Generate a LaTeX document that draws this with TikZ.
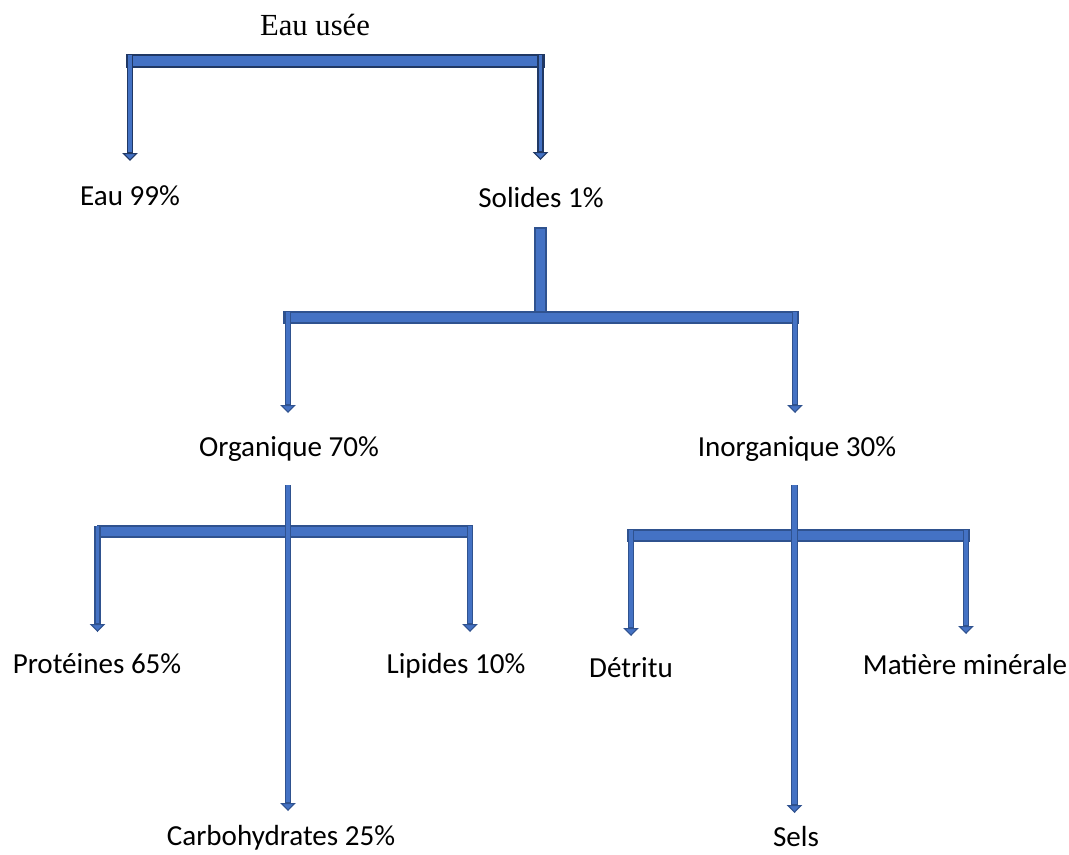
\documentclass[tikz,border=0pt]{standalone}
\usepackage{fontspec}
\setmainfont{Carlito}
\newfontfamily\serifttl{Liberation Serif}
\usetikzlibrary{arrows.meta}
\definecolor{barfill}{HTML}{4472C4}
\definecolor{barline}{HTML}{2F528F}
\definecolor{topline}{HTML}{203864}
\tikzset{
  lbl/.style={anchor=base, inner sep=0pt, font=\fontsize{21.8}{26}\selectfont},
  bar/.style={fill=barfill, draw=barline, line width=1.4pt},
  arr/.style={draw=barline, line width=4.6pt,
    -{Triangle[width=11.5pt,length=6pt,line width=0.8pt,fill=barfill,color=barline]},
    postaction={draw=barfill, line width=2.6pt, shorten >=6.6pt, -}},
  toparr/.style={draw=topline, line width=4.6pt,
    -{Triangle[width=11.5pt,length=6pt,line width=0.8pt,fill=barfill,color=topline]},
    postaction={draw=barfill, line width=2.6pt, shorten >=6.6pt, -}},
  tallarr/.style={draw=barline, line width=5.2pt,
    -{Triangle[width=11.5pt,length=6pt,line width=0.8pt,fill=barfill,color=barline]},
    postaction={draw=barfill, line width=3.2pt, shorten >=6.6pt, -}},
}
\begin{document}
\begin{tikzpicture}[x=0.75pt,y=-0.75pt]
\useasboundingbox (0,0) rectangle (1069,854);
% labels
\node[anchor=base, inner sep=0pt, font=\serifttl\fontsize{23}{28}\selectfont] (root) at (315,35) {Eau usée};
\node[lbl] (eau) at (130,205) {Eau 99\%};
\node[lbl] (sol) at (541,207) {Solides 1\%};
\node[lbl] (org) at (289,456) {Organique 70\%};
\node[lbl] (inorg) at (797,456) {Inorganique 30\%};
\node[lbl] (prot) at (97,673) {Protéines 65\%};
\node[lbl] (lip) at (456,673) {Lipides 10\%};
\node[lbl] (carb) at (281,845) {Carbohydrates 25\%};
\node[lbl] (detr) at (631,677) {Détritu};
\node[lbl] (mat) at (965,674) {Matière minérale};
\node[lbl] (sels) at (796,846) {Sels};

% level 1
\coordinate (b1a) at (127,55);
\coordinate (b1b) at (544,67);
\coordinate (s1l) at (130,55);
\coordinate (t1l) at (130,161);
\coordinate (s1r) at (540.5,55);
\coordinate (t1r) at (540.5,160);
\draw[bar, draw=topline] (b1a) rectangle (b1b);
\draw[toparr] (s1l) -- (t1l);
\draw[toparr] (s1r) -- (t1r);

% level 2
\coordinate (st2a) at (535,228);
\coordinate (st2b) at (546,313);
\coordinate (b2a) at (284,312);
\coordinate (b2b) at (798,323);
\coordinate (s2l) at (288,312);
\coordinate (t2l) at (288,413);
\coordinate (s2r) at (795,312);
\coordinate (t2r) at (795,413);
\draw[bar] (st2a) rectangle (st2b);
\draw[bar] (b2a) rectangle (b2b);
\draw[arr] (s2l) -- (t2l);
\draw[arr] (s2r) -- (t2r);

% level 3 left
\coordinate (b3a) at (98,526);
\coordinate (b3b) at (472,537);
\coordinate (s3l) at (97.5,526);
\coordinate (t3l) at (97.5,632);
\coordinate (s3r) at (470,526);
\coordinate (t3r) at (470,632);
\coordinate (v3t) at (288,485);
\coordinate (v3b) at (288,811);
\draw[bar] (b3a) rectangle (b3b);
\draw[arr] (s3l) -- (t3l);
\draw[arr] (s3r) -- (t3r);
\draw[tallarr] (v3t) -- (v3b);

% level 3 right
\coordinate (b4a) at (628,530);
\coordinate (b4b) at (969,541);
\coordinate (s4l) at (631,530);
\coordinate (t4l) at (631,636);
\coordinate (s4r) at (966,530);
\coordinate (t4r) at (966,634);
\coordinate (v4t) at (794.5,485);
\coordinate (v4b) at (794.5,813);
\draw[bar] (b4a) rectangle (b4b);
\draw[arr] (s4l) -- (t4l);
\draw[arr] (s4r) -- (t4r);
\draw[tallarr] (v4t) -- (v4b);
\end{tikzpicture}
\end{document}
